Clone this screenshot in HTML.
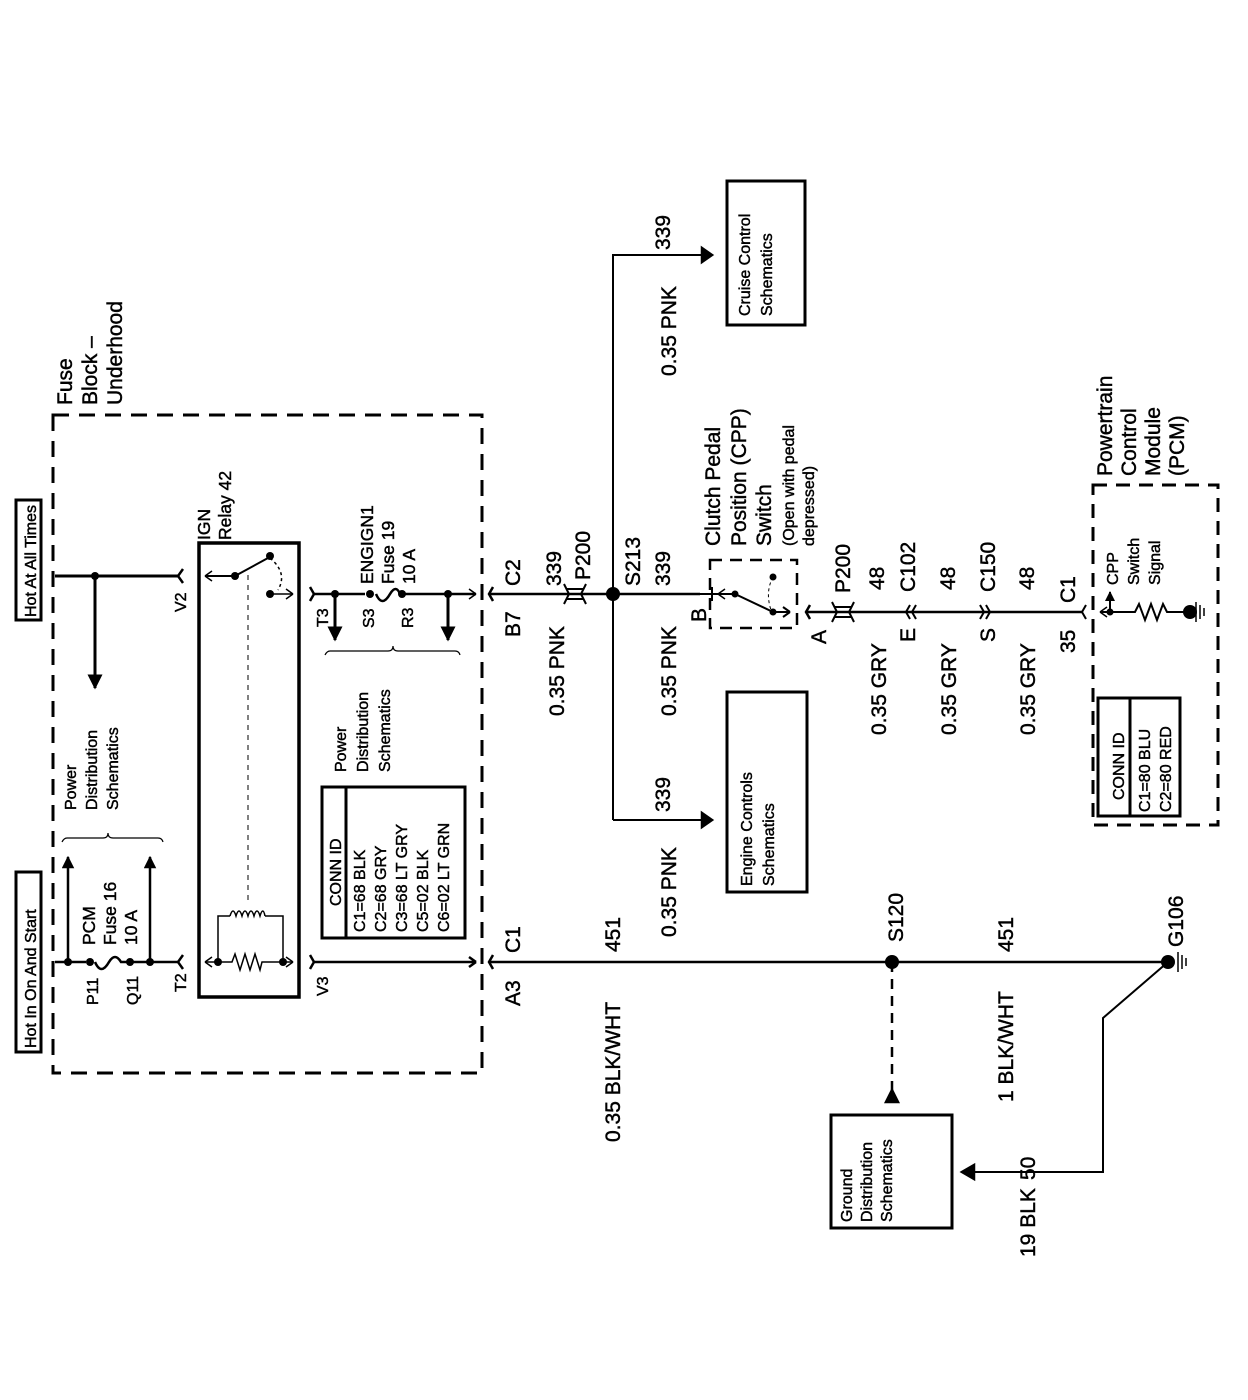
<!DOCTYPE html>
<html><head><meta charset="utf-8"><style>
html,body{margin:0;padding:0;background:#fff}
svg{display:block}
text{font-family:"Liberation Sans",Arial,sans-serif;fill:#000;stroke:#000;stroke-width:0.45}
.b{font-size:21px}
.m{font-size:17.5px}
.s{font-size:16px}
</style></head><body>
<svg width="1248" height="1400" viewBox="0 0 1248 1400" xmlns="http://www.w3.org/2000/svg">
<defs>
<marker id="ah" viewBox="0 0 10 10" refX="9" refY="5" markerWidth="5" markerHeight="5" orient="auto"><path d="M0,0 L10,5 L0,10 z" fill="#000"/></marker>
</defs>
<g stroke="#000" fill="none" stroke-width="2.5">
<rect x="53" y="415" width="429" height="658" stroke-dasharray="16,10" stroke-width="3"/>
<rect x="16" y="500" width="25" height="120" stroke-width="3"/>
<rect x="16" y="872" width="25" height="180" stroke-width="3"/>
<path d="M55,576 H178" stroke-width="3"/>
<path d="M183,569 L178,576 L183,583"/>
<path d="M95,576 V688" marker-end="url(#ah)" stroke-width="3"/>
<rect x="199" y="543" width="100" height="454" stroke-width="3.5"/>
<path d="M205,576 H235 L268,558" stroke-width="2"/>
<path d="M205,576 l7,-5 M205,576 l7,5" stroke-width="1.5"/>
<path d="M270,558 q18,15 8,32" stroke-width="1.5" stroke-dasharray="3,3"/>
<path d="M270,594 H293 M293,594 l-7,-5 M293,594 l-7,5" stroke-width="1.5"/>
<path d="M248,575 V905" stroke-width="1" stroke-dasharray="5,5"/>
<path d="M218,962 V916 H230 M265,916 H283 V962" stroke-width="1.5"/>
<path d="M230,916 q3,-10 6,0 q3,-10 6,0 q3,-10 6,0 q3,-10 6,0 q3,-10 6,0 q3,-10 5,0" stroke-width="1.5"/>
<path d="M205,962 H232 l3,-8 l5,16 l5,-16 l5,16 l5,-16 l5,16 l2,-8 H293" stroke-width="1.5"/>
<path d="M205,962 l7,-5 M205,962 l7,5 M293,962 l-7,-5 M293,962 l-7,5" stroke-width="1.5"/>
<path d="M310,587 L314,594 L310,601"/>
<path d="M314,594 H365 M376,594 q6,14 14,0 q6,-10 10,0 H476" stroke-width="2.5"/>
<path d="M476,594 l-7,-5 M476,594 l-7,5" stroke-width="1.5"/>
<path d="M335,594 V640" marker-end="url(#ah)" stroke-width="3"/>
<path d="M448,594 V640" marker-end="url(#ah)" stroke-width="3"/>
<path d="M325,655 q2,-4 5,-4 H388 q5,0 5,-5 q0,5 5,5 H455 q4,0 5,4" stroke-width="1.2"/>
<path d="M55,962 H86 M95,962 q6,14 14,0 q6,-10 12,0 H178" stroke-width="2.5"/>
<path d="M183,955 L178,962 L183,969"/>
<path d="M68,962 V857" marker-end="url(#ah)" stroke-width="2.5"/>
<path d="M150,962 V857" marker-end="url(#ah)" stroke-width="2.5"/>
<path d="M62,842 q2,-4 5,-4 H103 q5,0 5,-5 q0,5 5,5 H158 q4,0 5,4" stroke-width="1.2"/>
<path d="M310,955 L314,962 L310,969"/>
<path d="M314,962 H476 M476,962 l-7,-5 M476,962 l-7,5" stroke-width="2.5"/>
<rect x="322" y="787" width="143" height="151" stroke-width="3"/>
<path d="M346,787 V938" stroke-width="3"/>
<path d="M493,587 L489,594 L493,601 M489,594 H700" stroke-width="2.5"/>
<path d="M493,955 L489,962 L493,969 M489,962 H1168" stroke-width="2.5"/>
<path d="M566,589 H584 M566,599 H584 M564,584 L569,594 L564,604 M586,584 L581,594 L586,604" stroke-width="2"/>
<path d="M613,820 V255 H712" stroke-width="2"/>
<path d="M712,255 l-10,-7 v14 z M712,820 l-10,-7 v14 z" fill="#000"/>
<path d="M613,820 H712" stroke-width="2"/>
<rect x="727" y="181" width="78" height="144" stroke-width="3"/>
<rect x="727" y="692" width="80" height="200" stroke-width="3"/>
<rect x="831" y="1115" width="121" height="113" stroke-width="3"/>
<rect x="710" y="560" width="87" height="68" stroke-dasharray="12,8"/>
<path d="M700,594 H718 M712,587 V601" stroke-width="2"/>
<path d="M718,594 l7,-5 M718,594 l7,5" stroke-width="1.5"/>
<path d="M718,594 H735 L773,612 H790 M790,612 l-7,-5 M790,612 l-7,5" stroke-width="2"/>
<path d="M773,577 q-8,15 -2,33" stroke-width="1" stroke-dasharray="3,3"/>
<path d="M810,605 L806,612 L810,619 M806,612 H1082" stroke-width="2.5"/>
<path d="M834,607 H852 M834,617 H852 M832,602 L837,612 L832,622 M854,602 L849,612 L854,622" stroke-width="2"/>
<path d="M910,605 L906,612 L910,619 M916,605 L912,612 L916,619" stroke-width="2"/>
<path d="M980,605 L984,612 L980,619 M986,605 L990,612 L986,619" stroke-width="2"/>
<path d="M1086,605 L1082,612 L1086,619" stroke-width="2"/>
<rect x="1093" y="485" width="125" height="340" stroke-dasharray="14,9" stroke-width="3"/>
<path d="M1100,612 H1135 l4,-8 l6,16 l6,-16 l6,16 l6,-16 l4,8 H1190" stroke-width="2"/>
<path d="M1100,612 l7,-5 M1100,612 l7,5" stroke-width="1.5"/>
<path d="M1110,612 V592" marker-end="url(#ah)" stroke-width="2"/>
<path d="M1196,602 V622 M1200,605 V619 M1204,608 V616" stroke-width="1.5"/>
<rect x="1098" y="698" width="82" height="118" stroke-width="3"/>
<path d="M1130,698 V816" stroke-width="3"/>
<path d="M892,962 V1090" stroke-width="2.5" stroke-dasharray="10,7"/>
<path d="M892,1090 l-6,12 h12 z" fill="#000"/>
<path d="M1168,962 L1103,1018 V1172 H968" stroke-width="2"/>
<path d="M962,1172 l12,-7 v14 z" fill="#000"/>
<path d="M1178,952 V972 M1182,955 V969 M1186,958 V966" stroke-width="1.5"/>
</g>
<g fill="#000">
<circle cx="95" cy="576" r="4"/><circle cx="235" cy="576" r="4"/><circle cx="270" cy="556" r="4"/><circle cx="270" cy="594" r="4"/>
<circle cx="335" cy="594" r="4"/><circle cx="370" cy="594" r="4"/><circle cx="402" cy="594" r="4"/><circle cx="448" cy="594" r="4"/>
<circle cx="68" cy="962" r="4"/><circle cx="90" cy="962" r="4"/><circle cx="130" cy="962" r="4"/><circle cx="150" cy="962" r="4"/>
<circle cx="218" cy="962" r="4"/><circle cx="283" cy="962" r="4"/>
<circle cx="613" cy="594" r="7"/><circle cx="892" cy="962" r="7"/><circle cx="1168" cy="962" r="7"/><circle cx="1190" cy="612" r="7"/>
<circle cx="735" cy="594" r="3.5"/><circle cx="773" cy="612" r="3.5"/><circle cx="773" cy="577" r="3.5"/>
<circle cx="1110" cy="612" r="3.5"/>
</g>
<g>
<text class="s" transform="rotate(-90 36 617)" x="36" y="617">Hot At All Times</text>
<text class="s" transform="rotate(-90 36 1048)" x="36" y="1048">Hot In On And Start</text>
<text class="b" transform="rotate(-90 72 405)" x="72" y="405">Fuse</text>
<text class="b" transform="rotate(-90 97 405)" x="97" y="405">Block –</text>
<text class="b" transform="rotate(-90 122 405)" x="122" y="405">Underhood</text>
<text class="s" transform="rotate(-90 76 810)" x="76" y="810">Power</text>
<text class="s" transform="rotate(-90 97 810)" x="97" y="810">Distribution</text>
<text class="s" transform="rotate(-90 118 810)" x="118" y="810">Schematics</text>
<text class="m" transform="rotate(-90 95 945)" x="95" y="945">PCM</text>
<text class="m" transform="rotate(-90 116 945)" x="116" y="945">Fuse 16</text>
<text class="m" transform="rotate(-90 137 945)" x="137" y="945">10 A</text>
<text class="s" transform="rotate(-90 98 1005)" x="98" y="1005">P11</text>
<text class="s" transform="rotate(-90 138 1005)" x="138" y="1005">Q11</text>
<text class="s" transform="rotate(-90 186 992)" x="186" y="992">T2</text>
<text class="s" transform="rotate(-90 186 612)" x="186" y="612">V2</text>
<text class="m" transform="rotate(-90 210 540)" x="210" y="540">IGN</text>
<text class="m" transform="rotate(-90 231 540)" x="231" y="540">Relay 42</text>
<text class="m" transform="rotate(-90 373 584)" x="373" y="584">ENGIGN1</text>
<text class="m" transform="rotate(-90 394 584)" x="394" y="584">Fuse 19</text>
<text class="m" transform="rotate(-90 415 584)" x="415" y="584">10 A</text>
<text class="s" transform="rotate(-90 328 627)" x="328" y="627">T3</text>
<text class="s" transform="rotate(-90 374 628)" x="374" y="628">S3</text>
<text class="s" transform="rotate(-90 413 628)" x="413" y="628">R3</text>
<text class="s" transform="rotate(-90 328 996)" x="328" y="996">V3</text>
<text class="s" transform="rotate(-90 346 772)" x="346" y="772">Power</text>
<text class="s" transform="rotate(-90 368 772)" x="368" y="772">Distribution</text>
<text class="s" transform="rotate(-90 390 772)" x="390" y="772">Schematics</text>
<text class="s" transform="rotate(-90 341 906)" x="341" y="906">CONN ID</text>
<text class="s" transform="rotate(-90 365 932)" x="365" y="932">C1=68 BLK</text>
<text class="s" transform="rotate(-90 386 932)" x="386" y="932">C2=68 GRY</text>
<text class="s" transform="rotate(-90 407 932)" x="407" y="932">C3=68 LT GRY</text>
<text class="s" transform="rotate(-90 428 932)" x="428" y="932">C5=02 BLK</text>
<text class="s" transform="rotate(-90 449 932)" x="449" y="932">C6=02 LT GRN</text>
<text class="b" transform="rotate(-90 520 586)" x="520" y="586">C2</text>
<text class="b" transform="rotate(-90 520 637)" x="520" y="637">B7</text>
<text class="b" transform="rotate(-90 520 953)" x="520" y="953">C1</text>
<text class="b" transform="rotate(-90 520 1006)" x="520" y="1006">A3</text>
<text class="b" transform="rotate(-90 561 586)" x="561" y="586">339</text>
<text class="b" transform="rotate(-90 564 716)" x="564" y="716">0.35 PNK</text>
<text class="b" transform="rotate(-90 590 580)" x="590" y="580">P200</text>
<text class="b" transform="rotate(-90 640 586)" x="640" y="586">S213</text>
<text class="b" transform="rotate(-90 670 586)" x="670" y="586">339</text>
<text class="b" transform="rotate(-90 676 716)" x="676" y="716">0.35 PNK</text>
<text class="b" transform="rotate(-90 670 250)" x="670" y="250">339</text>
<text class="b" transform="rotate(-90 676 376)" x="676" y="376">0.35 PNK</text>
<text class="b" transform="rotate(-90 670 812)" x="670" y="812">339</text>
<text class="b" transform="rotate(-90 676 937)" x="676" y="937">0.35 PNK</text>
<text class="b" transform="rotate(-90 620 952)" x="620" y="952">451</text>
<text class="b" transform="rotate(-90 620 1142)" x="620" y="1142">0.35 BLK/WHT</text>
<text class="b" transform="rotate(-90 720 546)" x="720" y="546">Clutch Pedal</text>
<text class="b" transform="rotate(-90 746 546)" x="746" y="546">Position (CPP)</text>
<text class="b" transform="rotate(-90 771 546)" x="771" y="546">Switch</text>
<text class="s" transform="rotate(-90 794 546)" x="794" y="546">(Open with pedal</text>
<text class="s" transform="rotate(-90 814 546)" x="814" y="546">depressed)</text>
<text class="b" transform="rotate(-90 706 622)" x="706" y="622">B</text>
<text class="b" transform="rotate(-90 826 644)" x="826" y="644">A</text>
<text class="b" transform="rotate(-90 850 593)" x="850" y="593">P200</text>
<text class="b" transform="rotate(-90 884 590)" x="884" y="590">48</text>
<text class="b" transform="rotate(-90 886 735)" x="886" y="735">0.35 GRY</text>
<text class="b" transform="rotate(-90 915 592)" x="915" y="592">C102</text>
<text class="b" transform="rotate(-90 915 642)" x="915" y="642">E</text>
<text class="b" transform="rotate(-90 955 590)" x="955" y="590">48</text>
<text class="b" transform="rotate(-90 956 735)" x="956" y="735">0.35 GRY</text>
<text class="b" transform="rotate(-90 995 592)" x="995" y="592">C150</text>
<text class="b" transform="rotate(-90 995 642)" x="995" y="642">S</text>
<text class="b" transform="rotate(-90 1034 590)" x="1034" y="590">48</text>
<text class="b" transform="rotate(-90 1035 735)" x="1035" y="735">0.35 GRY</text>
<text class="b" transform="rotate(-90 1075 603)" x="1075" y="603">C1</text>
<text class="b" transform="rotate(-90 1075 653)" x="1075" y="653">35</text>
<text class="b" transform="rotate(-90 1112 476)" x="1112" y="476">Powertrain</text>
<text class="b" transform="rotate(-90 1136 476)" x="1136" y="476">Control</text>
<text class="b" transform="rotate(-90 1160 476)" x="1160" y="476">Module</text>
<text class="b" transform="rotate(-90 1184 476)" x="1184" y="476">(PCM)</text>
<text class="s" transform="rotate(-90 1118 585)" x="1118" y="585">CPP</text>
<text class="s" transform="rotate(-90 1139 585)" x="1139" y="585">Switch</text>
<text class="s" transform="rotate(-90 1160 585)" x="1160" y="585">Signal</text>
<text class="s" transform="rotate(-90 1124 800)" x="1124" y="800">CONN ID</text>
<text class="s" transform="rotate(-90 1150 812)" x="1150" y="812">C1=80 BLU</text>
<text class="s" transform="rotate(-90 1171 812)" x="1171" y="812">C2=80 RED</text>
<text class="b" transform="rotate(-90 903 942)" x="903" y="942">S120</text>
<text class="b" transform="rotate(-90 1013 952)" x="1013" y="952">451</text>
<text class="b" transform="rotate(-90 1013 1102)" x="1013" y="1102">1 BLK/WHT</text>
<text class="b" transform="rotate(-90 1183 947)" x="1183" y="947">G106</text>
<text class="b" transform="rotate(-90 1035 1257)" x="1035" y="1257">19 BLK</text>
<text class="b" transform="rotate(-90 1035 1180)" x="1035" y="1180">50</text>
<text class="s" transform="rotate(-90 750 316)" x="750" y="316">Cruise Control</text>
<text class="s" transform="rotate(-90 772 316)" x="772" y="316">Schematics</text>
<text class="s" transform="rotate(-90 752 886)" x="752" y="886">Engine Controls</text>
<text class="s" transform="rotate(-90 774 886)" x="774" y="886">Schematics</text>
<text class="s" transform="rotate(-90 852 1222)" x="852" y="1222">Ground</text>
<text class="s" transform="rotate(-90 872 1222)" x="872" y="1222">Distribution</text>
<text class="s" transform="rotate(-90 892 1222)" x="892" y="1222">Schematics</text>
</g>
</svg>
</body></html>
